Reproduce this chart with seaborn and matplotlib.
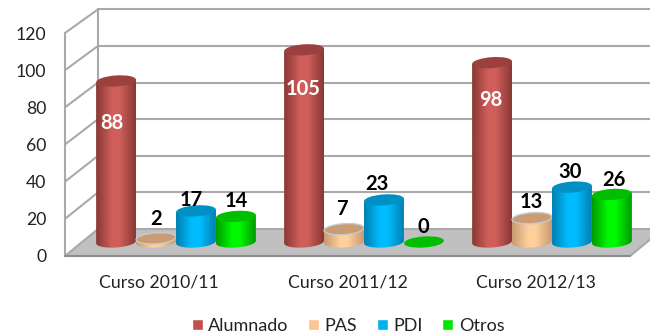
import numpy as np
import pandas as pd
import matplotlib
matplotlib.use("Agg")
import matplotlib.pyplot as plt
from matplotlib.colors import LinearSegmentedColormap
from matplotlib.patches import Ellipse, Polygon
from matplotlib.path import Path
from matplotlib.transforms import Affine2D, IdentityTransform
import seaborn as sns

cursos = ["Curso 2010/11", "Curso 2011/12", "Curso 2012/13"]
alumnado = [88, 105, 98]
pas = [2, 7, 13]
pdi = [17, 23, 30]
otros = [14, 0, 26]
ticks = [0, 20, 40, 60, 80, 100, 120]

series = {"Alumnado": alumnado, "PAS": pas, "PDI": pdi, "Otros": otros}
palette = {"Alumnado": "#C0504D", "PAS": "#FCC48E", "PDI": "#00B0F0", "Otros": "#00E600"}
shades = {
    "Alumnado": ("#8A3835", "#D05F5B", "#9C403D"),
    "PAS": ("#C89A70", "#FFD09C", "#C99C76"),
    "PDI": ("#0080B2", "#00BDFF", "#0090C4"),
    "Otros": ("#009C00", "#00F800", "#00BE00"),
}
label_colors = {"Alumnado": "white", "PAS": "black", "PDI": "black", "Otros": "black"}
# small hand nudges of each label, px (dx, dy above the cap centre)
nudges = {
    "Alumnado": [(-4, -42), (-1, -39), (-1, -37)],
    "PAS": [(0, 19), (-2, 20), (-1, 16)],
    "PDI": [(-5, 11), (-7, 16), (-2, 15)],
    "Otros": [(0, 15), (-1, 15), (2, 14)],
}

df = pd.DataFrame(
    [(c, s, v) for s, vals in series.items() for c, v in zip(cursos, vals)],
    columns=["curso", "serie", "valor"],
)

sns.set_style("white")
plt.rcParams["font.family"] = ["Lato", "DejaVu Sans"]
W, H = 650, 336
fig = plt.figure(figsize=(W / 100, H / 100), dpi=100)


def box(left, right, top, bottom):
    return [left / W, 1 - bottom / H, (right - left) / W, (bottom - top) / H]


# Front-plane axes: carries the tick labels and the wall structure
ax = fig.add_axes(box(65, 630, 33, 256))
ax.set_xlim(-0.5, 2.5)
ax.set_ylim(0, 120)
ax.set_xticks(range(3), cursos)
ax.set_yticks(ticks)
ax.tick_params(axis="both", length=0, labelsize=12.7, colors="#222222")
ax.tick_params(axis="x", pad=13)
ax.tick_params(axis="y", pad=13.5)
for s in ax.spines.values():
    s.set_visible(False)
ax.patch.set_visible(False)

dx = 33 / (565 / 3)
dy = 27 / (223 / 120)
ratio = 0.985
wall = "#A9A9A9"
lw = 1.5


def back(v):
    return dy + v * ratio


ax.add_patch(
    Polygon(
        [(-0.5, 0), (2.5, 0), (2.5 + dx, dy), (-0.5 + dx, dy)],
        closed=True, fc="#C0C0C0", ec="none", clip_on=False, zorder=1,
    )
)
for v in ticks:
    ax.plot([-0.5 + dx, 2.5 + dx], [back(v), back(v)], color=wall, lw=lw, clip_on=False, zorder=1.2)
    ax.plot([-0.5, -0.5 + dx], [v, back(v)], color=wall, lw=lw, clip_on=False, zorder=1.2)
ax.plot([-0.5, -0.5], [0, 120], color=wall, lw=lw, clip_on=False, zorder=1.2)
ax.plot([-0.5 + dx, -0.5 + dx], [back(0), back(120)], color=wall, lw=lw, clip_on=False, zorder=1.2)
ax.plot([-0.5, 2.5], [0, 0], color="#8C8C8C", lw=lw, clip_on=False, zorder=1.3)
ax.plot([2.5, 2.5 + dx], [0, dy], color=wall, lw=lw, clip_on=False, zorder=1.2)

# Bar axes: baseline and scale of the cylinder bodies
bx = fig.add_axes(box(82, 646, 242 - 120 * 1.83, 242))
sns.barplot(
    data=df, x="curso", y="valor", hue="serie", order=cursos,
    hue_order=list(series), palette=palette, width=0.85, gap=0,
    dodge=True, saturation=1, ax=bx,
)
bx.set_xlim(-0.5, 2.5)
bx.set_ylim(0, 120)
bx.set_axis_off()
bx.patch.set_visible(False)
fig.canvas.draw()

a_tilt = np.deg2rad(4)
b_px = 5.5
z = 3
for name, container in zip(series, bx.containers):
    edge, mid, top = shades[name]
    cmap = LinearSegmentedColormap.from_list(name, [edge, mid, mid, edge], N=256)
    grad = np.interp(np.linspace(0, 1, 64), [0, 0.4, 0.6, 1], [0, 0.33, 0.67, 1])[None, :]
    for rect, val, nudge in zip(container.patches, series[name], nudges[name]):
        x, w, h = rect.get_x(), rect.get_width(), rect.get_height()
        rect.set_visible(False)
        cx_d = x + w / 2
        px_b = bx.transData.transform((cx_d, 0))
        px_t = bx.transData.transform((cx_d, h))
        a_px = bx.transData.transform((x + w, 0))[0] - px_b[0]
        t = np.linspace(np.pi, 2 * np.pi, 40)
        ex = a_px * np.cos(t)
        ey = b_px * np.sin(t)
        rx = ex * np.cos(a_tilt) - ey * np.sin(a_tilt) + px_b[0]
        ry = ex * np.sin(a_tilt) + ey * np.cos(a_tilt) + px_b[1]
        rise = a_px * np.sin(a_tilt)
        verts = np.column_stack([rx, ry]).tolist()
        verts += [[px_t[0] + a_px, px_t[1] + rise], [px_t[0] - a_px, px_t[1] - rise], verts[0]]
        clip = Path(verts)
        if h > 0:
            im = bx.imshow(
                grad, cmap=cmap, vmin=0, vmax=1, aspect="auto", interpolation="bicubic",
                extent=(x, x + w, -12, h + 12), zorder=z,
            )
            im.set_clip_box(fig.bbox)
            im.set_clip_path(clip, transform=IdentityTransform())
        cap = Ellipse(
            (0, 0), 2 * a_px, 2 * b_px, angle=4,
            transform=Affine2D().translate(*px_t),
            fc=top, ec="#C9C9C9" if name == "PAS" else "none", lw=1.0, zorder=z + 0.1, clip_on=False,
        )
        bx.add_artist(cap)
        off_x, off_y = nudge
        color = label_colors[name]
        bx.annotate(
            str(val), (cx_d, h), xytext=(off_x * 0.72, off_y * 0.72),
            textcoords="offset points", ha="center", va="center",
            fontsize=14.5, fontweight="bold", color=color, zorder=30, annotation_clip=False,
        )
        z += 0.2
bx.set_xlim(-0.5, 2.5)
bx.set_ylim(0, 120)

sns.move_legend(
    bx, "center", bbox_to_anchor=(348 / W, 1 - 326 / H), bbox_transform=fig.transFigure,
    ncols=4, frameon=False, title=None, fontsize=13, handlelength=0.6, handleheight=0.6,
    handletextpad=0.3, columnspacing=1.1, labelcolor="#222222",
)

fig.savefig("out.png", dpi=100)
